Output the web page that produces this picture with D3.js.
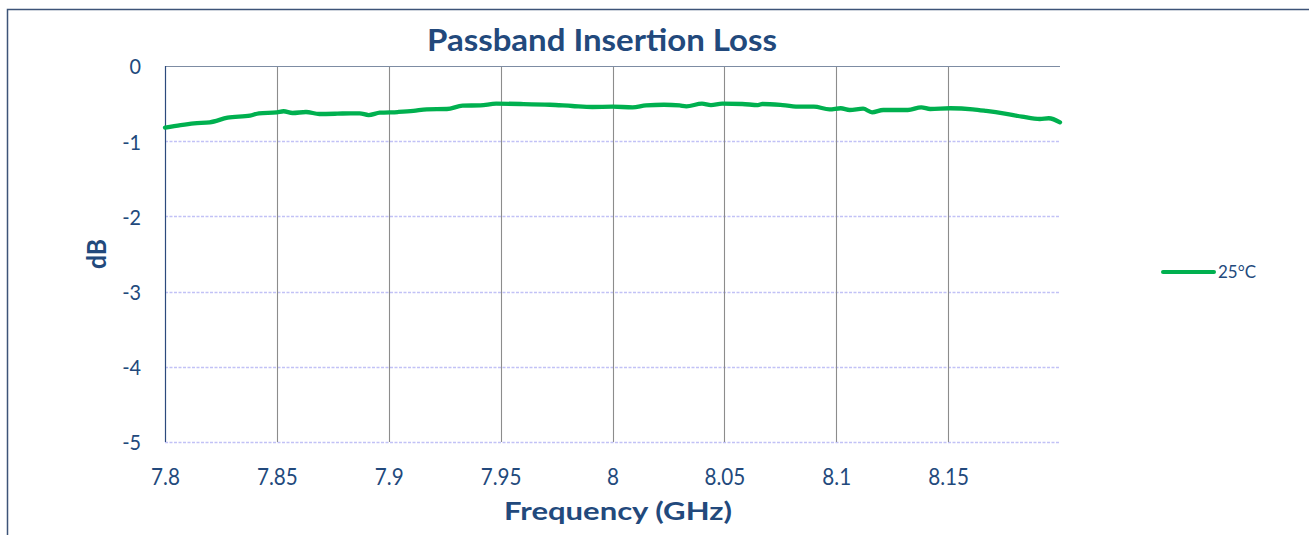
<!DOCTYPE html>
<html>
<head>
<meta charset="utf-8">
<script src="https://cdn.jsdelivr.net/npm/d3@7/dist/d3.min.js"></script>
<style>
  html, body { margin: 0; padding: 0; background: #fff; }
  svg { display: block; }
  text { font-family: "Lato", "Open Sans", sans-serif; }
</style>
</head>
<body>
<svg id="chart" width="1309" height="535"></svg>
<script>
// ---- data ----
const title = "Passband Insertion Loss";
const xTitle = "Frequency (GHz)";
const yTitle = "dB";
const seriesName = "25°C";
const xTicks = [7.8, 7.85, 7.9, 7.95, 8.0, 8.05, 8.1, 8.15];
const xTickLabels = ["7.8", "7.85", "7.9", "7.95", "8", "8.05", "8.1", "8.15"];
const yTicks = [0, -1, -2, -3, -4, -5];
const yTickLabels = ["0", "-1", "-2", "-3", "-4", "-5"];
const freq = [7.800, 7.807, 7.813, 7.820, 7.828, 7.838, 7.842, 7.850, 7.853, 7.857,
              7.863, 7.869, 7.877, 7.883, 7.887, 7.891, 7.896, 7.904, 7.911, 7.917,
              7.926, 7.933, 7.941, 7.948, 7.959, 7.972, 7.982, 7.991, 8.000, 8.009,
              8.015, 8.023, 8.030, 8.033, 8.040, 8.044, 8.049, 8.058, 8.065, 8.067,
              8.076, 8.084, 8.090, 8.097, 8.102, 8.106, 8.112, 8.116, 8.121, 8.132,
              8.138, 8.142, 8.151, 8.161, 8.167, 8.176, 8.183, 8.191, 8.195, 8.200];
const loss25 = [-0.820, -0.785, -0.762, -0.749, -0.688, -0.661, -0.629, -0.616, -0.602, -0.625,
                -0.612, -0.638, -0.634, -0.629, -0.629, -0.652, -0.621, -0.612, -0.598, -0.576,
                -0.572, -0.528, -0.523, -0.501, -0.505, -0.515, -0.532, -0.545, -0.541, -0.549,
                -0.523, -0.515, -0.525, -0.536, -0.501, -0.519, -0.501, -0.505, -0.519, -0.505,
                -0.519, -0.541, -0.541, -0.576, -0.562, -0.585, -0.568, -0.616, -0.585, -0.585,
                -0.549, -0.572, -0.562, -0.576, -0.598, -0.638, -0.674, -0.705, -0.695, -0.749];

// ---- layout ----
const textColor = "#22497c";
const svg = d3.select("#chart");
const plot = { left: 165, right: 1060, top: 66, bottom: 442 };

const x = d3.scaleLinear().domain([7.8, 8.2]).range([plot.left, plot.right]);
const y = d3.scaleLinear().domain([0, -5]).range([plot.top, plot.bottom]);

// outer border
svg.append("rect")
  .attr("x", 7.5).attr("y", 9.5).attr("width", 1330).attr("height", 560)
  .attr("fill", "none").attr("stroke", "#3d5478").attr("stroke-width", 1.5);

// horizontal dashed gridlines
svg.append("g")
  .selectAll("line")
  .data(yTicks.filter(d => d !== 0))
  .join("line")
  .attr("x1", plot.left).attr("x2", plot.right)
  .attr("y1", d => Math.round(y(d)) + 0.5).attr("y2", d => Math.round(y(d)) + 0.5)
  .attr("stroke", "#c2c2f6").attr("stroke-width", 1.3).attr("stroke-dasharray", "3,1.5");

// vertical gridlines
svg.append("g")
  .selectAll("line")
  .data(xTicks.filter(d => d !== 7.8))
  .join("line")
  .attr("x1", d => Math.round(x(d)) + 0.5).attr("x2", d => Math.round(x(d)) + 0.5)
  .attr("y1", plot.top).attr("y2", plot.bottom)
  .attr("stroke", "#8c8c8c").attr("stroke-width", 1.1);

// top line (value 0)
svg.append("line")
  .attr("x1", plot.left).attr("x2", plot.right)
  .attr("y1", plot.top + 0.5).attr("y2", plot.top + 0.5)
  .attr("stroke", "#7d8ca3").attr("stroke-width", 1);

// left axis line
svg.append("line")
  .attr("x1", plot.left + 0.5).attr("x2", plot.left + 0.5)
  .attr("y1", plot.top).attr("y2", plot.bottom)
  .attr("stroke", "#2c4a7c").attr("stroke-width", 1.2);

// fit helper: compress text horizontally
function squeeze(sel, factor) {
  sel.each(function() {
    const w = this.getComputedTextLength();
    d3.select(this).attr("textLength", w * factor).attr("lengthAdjust", "spacingAndGlyphs");
  });
}

// x axis labels
const xAxis = d3.axisBottom(x).tickValues(xTicks).tickFormat((d, i) => xTickLabels[i]).tickSize(0).tickPadding(0);
const gx = svg.append("g").attr("transform", `translate(0, 485)`).call(xAxis);
gx.select(".domain").remove();
gx.selectAll("text")
  .attr("dy", 0).attr("y", 0)
  .attr("fill", textColor).attr("font-size", 23.5);
squeeze(gx.selectAll("text"), 0.88);

// y axis labels
const yAxis = d3.axisLeft(y).tickValues(yTicks).tickFormat((d, i) => yTickLabels[i]).tickSize(0).tickPadding(0);
const gy = svg.append("g").attr("transform", `translate(141, 0)`).call(yAxis);
gy.select(".domain").remove();
gy.selectAll("text")
  .attr("x", 0).attr("dy", "0.36em")
  .attr("fill", textColor).attr("font-size", 22);
squeeze(gy.selectAll("text"), 0.9);

// series line
const line = d3.line().x((d, i) => x(freq[i])).y(d => y(d)).curve(d3.curveMonotoneX);
svg.append("path")
  .datum(loss25)
  .attr("d", line)
  .attr("fill", "none")
  .attr("stroke", "#00b04f")
  .attr("stroke-width", 4.3)
  .attr("stroke-linejoin", "round")
  .attr("stroke-linecap", "round");

// title
svg.append("text")
  .attr("x", 602).attr("y", 51)
  .attr("text-anchor", "middle")
  .attr("font-size", 31).attr("font-weight", 700)
  .attr("fill", textColor)
  .attr("textLength", 350).attr("lengthAdjust", "spacingAndGlyphs")
  .text(title);

// x title
svg.append("text")
  .attr("x", 618).attr("y", 520)
  .attr("text-anchor", "middle")
  .attr("font-size", 24.5).attr("font-weight", 700)
  .attr("fill", textColor)
  .attr("textLength", 228).attr("lengthAdjust", "spacingAndGlyphs")
  .text(xTitle);

// y title
svg.append("text")
  .attr("transform", "translate(106, 254) rotate(-90)")
  .attr("text-anchor", "middle")
  .attr("font-size", 27).attr("font-weight", 700)
  .attr("fill", textColor)
  .attr("textLength", 30).attr("lengthAdjust", "spacingAndGlyphs")
  .text(yTitle);

// legend
const lg = svg.append("g");
lg.append("line")
  .attr("x1", 1163).attr("x2", 1214).attr("y1", 272).attr("y2", 272)
  .attr("stroke", "#00b04f").attr("stroke-width", 4).attr("stroke-linecap", "round");
const lt = lg.append("text")
  .attr("x", 1218).attr("y", 272).attr("dy", "0.36em")
  .attr("font-size", 18).attr("fill", textColor)
  .text(seriesName);
lt.attr("textLength", 38).attr("lengthAdjust", "spacingAndGlyphs");
</script>
</body>
</html>
